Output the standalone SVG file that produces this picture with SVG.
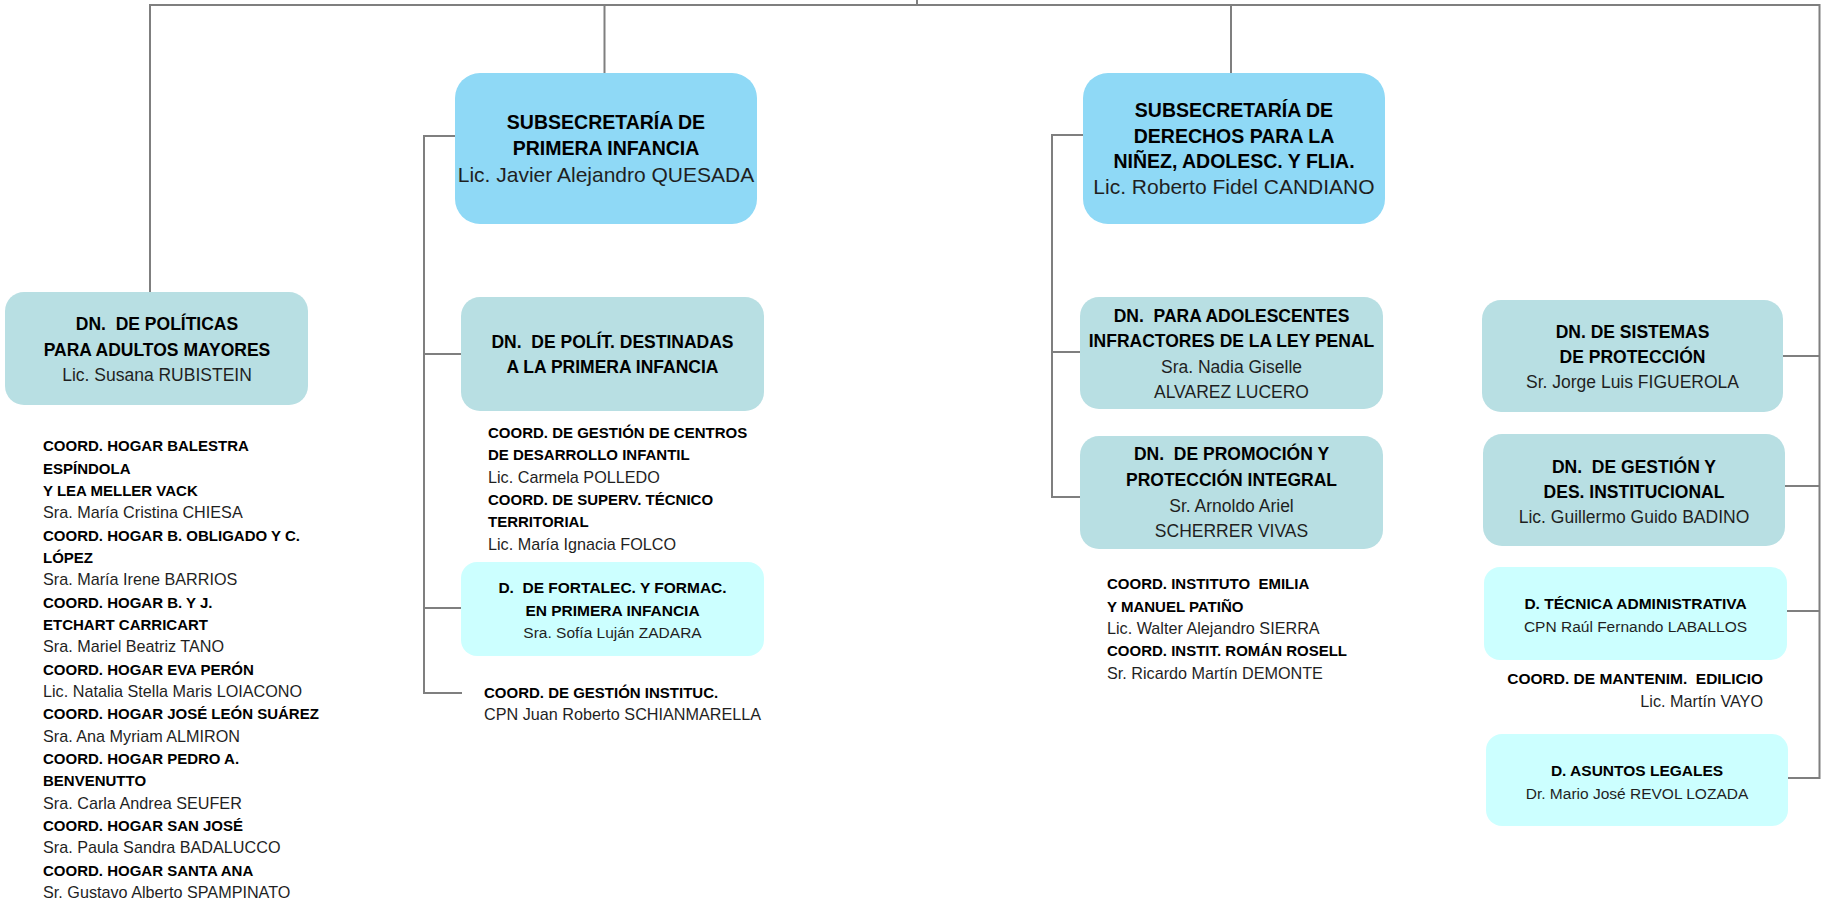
<svg xmlns="http://www.w3.org/2000/svg" width="1821" height="904" viewBox="0 0 1821 904">
<style>
.ln{stroke:#7f7f7f;stroke-width:2;fill:none}
.sub{fill:#8fd9f6}
.dn{fill:#b8dfe3}
.d{fill:#ccffff}
text{font-family:"Liberation Sans",Arial,sans-serif;white-space:pre}
.c{text-anchor:middle}
.e{text-anchor:end}
.b{font-weight:bold;fill:#000}
.r{fill:#1f1f1f}
.s1 .b{font-size:19.5px}
.s1 .r{font-size:21px}
.s2{font-size:17.5px}
.s3{font-size:15.5px}
.ls .b{font-size:15px}
.ls .r{font-size:16.2px}
</style>
<rect width="1821" height="904" fill="#fff"/>
<g id="connectors">
<path class="ln" d="M150 292V5H1819.5V778H1788"/>
<path class="ln" d="M917 0V5"/>
<path class="ln" d="M604.5 5V73"/>
<path class="ln" d="M1231 5V73"/>
<path class="ln" d="M455 136H424V693H462"/>
<path class="ln" d="M424 354H461"/>
<path class="ln" d="M424 608H461"/>
<path class="ln" d="M1083 135H1052V497H1080"/>
<path class="ln" d="M1052 352H1080"/>
<path class="ln" d="M1783 356H1819.5"/>
<path class="ln" d="M1785 486H1819.5"/>
<path class="ln" d="M1787 611H1819.5"/>
</g>
<g id="sub-primera-infancia" class="s1">
<rect class="sub" x="455" y="73" width="302" height="151" rx="25"/>
<text class="c b" x="606" y="129">SUBSECRETARÍA DE</text>
<text class="c b" x="606" y="155">PRIMERA INFANCIA</text>
<text class="c r" x="606" y="182">Lic. Javier Alejandro QUESADA</text>
</g>
<g id="sub-derechos" class="s1">
<rect class="sub" x="1083" y="73" width="302" height="151" rx="25"/>
<text class="c b" x="1234" y="117">SUBSECRETARÍA DE</text>
<text class="c b" x="1234" y="143">DERECHOS PARA LA</text>
<text class="c b" x="1234" y="168">NIÑEZ, ADOLESC. Y FLIA.</text>
<text class="c r" x="1234" y="194">Lic. Roberto Fidel CANDIANO</text>
</g>
<g id="dn-adultos-mayores" class="s2">
<rect class="dn" x="5" y="292" width="303" height="113" rx="19"/>
<text class="c b" x="157" y="330">DN.  DE POLÍTICAS</text>
<text class="c b" x="157" y="356">PARA ADULTOS MAYORES</text>
<text class="c r" x="157" y="381">Lic. Susana RUBISTEIN</text>
</g>
<g id="coord-adultos-mayores" class="ls">
<text class="b" x="43" y="451.3">COORD. HOGAR BALESTRA</text>
<text class="b" x="43" y="473.6">ESPÍNDOLA</text>
<text class="b" x="43" y="496">Y LEA MELLER VACK</text>
<text class="r" x="43" y="518.3">Sra. María Cristina CHIESA</text>
<text class="b" x="43" y="540.6">COORD. HOGAR B. OBLIGADO Y C.</text>
<text class="b" x="43" y="563">LÓPEZ</text>
<text class="r" x="43" y="585.3">Sra. María Irene BARRIOS</text>
<text class="b" x="43" y="607.6">COORD. HOGAR B. Y J.</text>
<text class="b" x="43" y="630">ETCHART CARRICART</text>
<text class="r" x="43" y="652.3">Sra. Mariel Beatriz TANO</text>
<text class="b" x="43" y="674.6">COORD. HOGAR EVA PERÓN</text>
<text class="r" x="43" y="697">Lic. Natalia Stella Maris LOIACONO</text>
<text class="b" x="43" y="719.3">COORD. HOGAR JOSÉ LEÓN SUÁREZ</text>
<text class="r" x="43" y="741.6">Sra. Ana Myriam ALMIRON</text>
<text class="b" x="43" y="764">COORD. HOGAR PEDRO A.</text>
<text class="b" x="43" y="786.3">BENVENUTTO</text>
<text class="r" x="43" y="808.6">Sra. Carla Andrea SEUFER</text>
<text class="b" x="43" y="831">COORD. HOGAR SAN JOSÉ</text>
<text class="r" x="43" y="853.3">Sra. Paula Sandra BADALUCCO</text>
<text class="b" x="43" y="875.6">COORD. HOGAR SANTA ANA</text>
<text class="r" x="43" y="898">Sr. Gustavo Alberto SPAMPINATO</text>
</g>
<g id="dn-primera-infancia" class="s2">
<rect class="dn" x="461" y="297" width="303" height="114" rx="19"/>
<text class="c b" x="612.5" y="348">DN.  DE POLÍT. DESTINADAS</text>
<text class="c b" x="612.5" y="373">A LA PRIMERA INFANCIA</text>
</g>
<g id="coord-primera-infancia" class="ls">
<text class="b" x="488" y="438">COORD. DE GESTIÓN DE CENTROS</text>
<text class="b" x="488" y="460.3">DE DESARROLLO INFANTIL</text>
<text class="r" x="488" y="482.6">Lic. Carmela POLLEDO</text>
<text class="b" x="488" y="505">COORD. DE SUPERV. TÉCNICO</text>
<text class="b" x="488" y="527.3">TERRITORIAL</text>
<text class="r" x="488" y="549.6">Lic. María Ignacia FOLCO</text>
</g>
<g id="d-fortalec" class="s3">
<rect class="d" x="461" y="562" width="303" height="94" rx="16"/>
<text class="c b" x="612.5" y="593">D.  DE FORTALEC. Y FORMAC.</text>
<text class="c b" x="612.5" y="615.5">EN PRIMERA INFANCIA</text>
<text class="c r" x="612.5" y="638">Sra. Sofía Luján ZADARA</text>
</g>
<g id="coord-gestion-instituc" class="ls">
<text class="b" x="484" y="698">COORD. DE GESTIÓN INSTITUC.</text>
<text class="r" x="484" y="720.3">CPN Juan Roberto SCHIANMARELLA</text>
</g>
<g id="dn-adolescentes" class="s2">
<rect class="dn" x="1080" y="297" width="303" height="112" rx="19"/>
<text class="c b" x="1231.5" y="322">DN.  PARA ADOLESCENTES</text>
<text class="c b" x="1231.5" y="347">INFRACTORES DE LA LEY PENAL</text>
<text class="c r" x="1231.5" y="373">Sra. Nadia Giselle</text>
<text class="c r" x="1231.5" y="398">ALVAREZ LUCERO</text>
</g>
<g id="dn-promocion" class="s2">
<rect class="dn" x="1080" y="436" width="303" height="113" rx="19"/>
<text class="c b" x="1231.5" y="460">DN.  DE PROMOCIÓN Y</text>
<text class="c b" x="1231.5" y="486">PROTECCIÓN INTEGRAL</text>
<text class="c r" x="1231.5" y="512">Sr. Arnoldo Ariel</text>
<text class="c r" x="1231.5" y="537">SCHERRER VIVAS</text>
</g>
<g id="coord-institutos" class="ls">
<text class="b" x="1107" y="589.3">COORD. INSTITUTO  EMILIA</text>
<text class="b" x="1107" y="611.6">Y MANUEL PATIÑO</text>
<text class="r" x="1107" y="634">Lic. Walter Alejandro SIERRA</text>
<text class="b" x="1107" y="656.3">COORD. INSTIT. ROMÁN ROSELL</text>
<text class="r" x="1107" y="678.6">Sr. Ricardo Martín DEMONTE</text>
</g>
<g id="dn-sistemas" class="s2">
<rect class="dn" x="1482" y="300" width="301" height="112" rx="19"/>
<text class="c b" x="1632.5" y="338">DN. DE SISTEMAS</text>
<text class="c b" x="1632.5" y="363">DE PROTECCIÓN</text>
<text class="c r" x="1632.5" y="388">Sr. Jorge Luis FIGUEROLA</text>
</g>
<g id="dn-gestion" class="s2">
<rect class="dn" x="1483" y="434" width="302" height="112" rx="19"/>
<text class="c b" x="1634" y="473">DN.  DE GESTIÓN Y</text>
<text class="c b" x="1634" y="498">DES. INSTITUCIONAL</text>
<text class="c r" x="1634" y="523">Lic. Guillermo Guido BADINO</text>
</g>
<g id="d-tecnica" class="s3">
<rect class="d" x="1484" y="567" width="303" height="93" rx="16"/>
<text class="c b" x="1635.5" y="608.6">D. TÉCNICA ADMINISTRATIVA</text>
<text class="c r" x="1635.5" y="632">CPN Raúl Fernando LABALLOS</text>
</g>
<g id="coord-mantenim" class="ls">
<text class="e b" x="1763" y="684" style="font-size:15.5px">COORD. DE MANTENIM.  EDILICIO</text>
<text class="e r" x="1763" y="707">Lic. Martín VAYO</text>
</g>
<g id="d-asuntos" class="s3">
<rect class="d" x="1486" y="734" width="302" height="92" rx="16"/>
<text class="c b" x="1637" y="776.4">D. ASUNTOS LEGALES</text>
<text class="c r" x="1637" y="798.6">Dr. Mario José REVOL LOZADA</text>
</g>
</svg>
